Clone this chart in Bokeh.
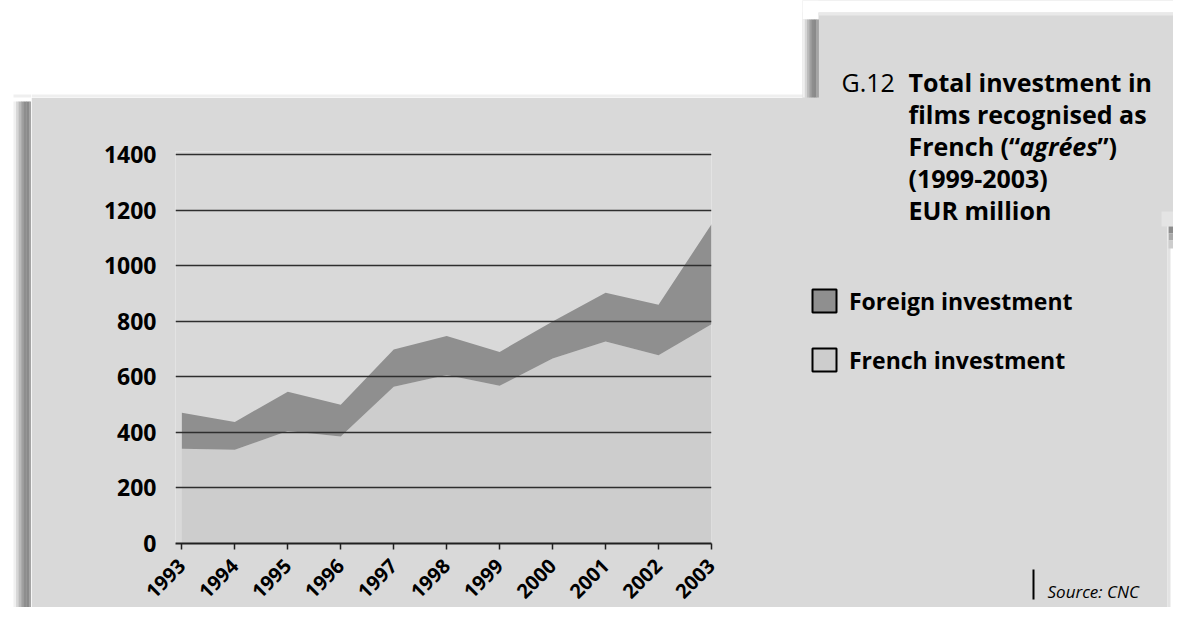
import math
from bokeh.plotting import figure
from bokeh.layouts import row, column
from bokeh.models import (FixedTicker, Label, Legend, LegendItem, PolyAnnotation,
                          ColumnDataSource, Range1d)
from bokeh.embed import file_html
from bokeh.resources import INLINE

# ---------------- data ----------------
years = [1993, 1994, 1995, 1996, 1997, 1998, 1999, 2000, 2001, 2002, 2003]
french_investment = [341, 338, 405, 385, 565, 607, 568, 666, 728, 678, 790]
foreign_investment = [130, 100, 142, 115, 134, 140, 122, 134, 175, 182, 360]
y_ticks = [0, 200, 400, 600, 800, 1000, 1200, 1400]
series_labels = ["Foreign investment", "French investment"]
title_number = "G.12"
title_lines = ["Total investment in", "films recognised as", "French (\u201c", "agr\u00e9es", "\u201d)",
               "(1999-2003)", "EUR million"]
source_text = "Source: CNC"

# ---------------- geometry (window pixels) ----------------
TOTAL_W, TOTAL_H = 1174, 607
SPLIT_X = 803     # left edge of the right-hand (title) block
TOP_Y = 97        # top edge of the main panel
LEFT_X = 31       # left edge of the main panel
FL, FR, FT, FB = 175, 711, 151, 543   # plot frame
X0, X1 = 1992.88, 2003.0
Y0, Y1 = 0, 1412

PANEL = "#d9d9d9"
FRENCH_C = "#cdcdcd"
FOREIGN_C = "#8f8f8f"
GRID_C = "#2e2e2e"
SHADOW = ["#f0f0f0", "#d6d6d6", "#bababa", "#a0a0a0", "#8e8e8e", "#8a8a8a", "#a4a4a4"]


def deco_fig(x0, x1, y0, y1, bg):
    f = figure(width=x1 - x0, height=y1 - y0,
               x_range=Range1d(x0, x1), y_range=Range1d(y1, y0),
               x_axis_location=None, y_axis_location=None,
               output_backend="svg", toolbar_location=None,
               min_border_left=0, min_border_right=0, min_border_top=0, min_border_bottom=0)
    f.title.visible = False
    f.outline_line_color = None
    f.grid.visible = False
    f.background_fill_color = bg
    f.border_fill_color = bg
    return f


def rect(f, x0, y0, x1, y1, color):
    f.add_layout(PolyAnnotation(xs=[x0, x1, x1, x0], ys=[y0, y0, y1, y1],
                                fill_color=color, fill_alpha=1.0, line_color=None))


def shadow_bands(f, xa, xb, ya, yb):
    step = (xb - xa) / len(SHADOW)
    for i, c in enumerate(SHADOW):
        rect(f, xa + i * step, ya, xa + (i + 1) * step + 0.4, yb, c)


# ---- full-height strip left of the main panel (white + shadow) ----
left_fig = deco_fig(0, LEFT_X, 0, TOTAL_H, "white")
rect(left_fig, 13, TOP_Y - 3, LEFT_X, TOP_Y, "#efefef")
shadow_bands(left_fig, 13, LEFT_X, 101, TOTAL_H)

# ---- strip above the main panel ----
top_fig = deco_fig(LEFT_X, SPLIT_X, 0, TOP_Y, "white")
rect(top_fig, LEFT_X, TOP_Y - 3, SPLIT_X, TOP_Y, "#efefef")

# ---- the chart ----
p = figure(width=SPLIT_X - LEFT_X, height=TOTAL_H - TOP_Y,
           x_range=(X0, X1), y_range=(Y0, Y1),
           output_backend="svg", toolbar_location=None,
           min_border_left=FL - LEFT_X, min_border_right=SPLIT_X - FR,
           min_border_top=FT - TOP_Y, min_border_bottom=TOTAL_H - FB)
p.title.visible = False
p.outline_line_color = None
p.background_fill_color = PANEL
p.border_fill_color = PANEL

src = ColumnDataSource(dict(year=years, french=french_investment, foreign=foreign_investment))
areas = p.varea_stack(["french", "foreign"], x="year", source=src,
                      color=[FRENCH_C, FOREIGN_C])
for r in areas:
    r.level = "underlay"

p.xaxis.ticker = FixedTicker(ticks=years)
p.yaxis.ticker = FixedTicker(ticks=y_ticks)
p.ygrid.ticker = FixedTicker(ticks=y_ticks)
p.xgrid.visible = False
p.ygrid.grid_line_color = GRID_C
p.ygrid.grid_line_width = 1.5
p.ygrid.level = "glyph"

p.yaxis.axis_line_color = None
p.yaxis.major_tick_line_color = None
p.yaxis.minor_tick_line_color = None
p.yaxis.major_tick_out = 0
p.yaxis.major_tick_in = 0
p.yaxis.major_label_standoff = 19
p.yaxis.major_label_text_font = "Open Sans"
p.yaxis.major_label_text_font_style = "bold"
p.yaxis.major_label_text_font_size = "23px"
p.yaxis.major_label_text_color = "black"

p.xaxis.axis_line_color = "#202020"
p.xaxis.axis_line_width = 2
p.xaxis.major_tick_line_color = "#202020"
p.xaxis.major_tick_line_width = 1.5
p.xaxis.major_tick_out = 6
p.xaxis.major_tick_in = 0
p.xaxis.minor_tick_line_color = None
p.xaxis.major_label_orientation = math.pi / 4
p.xaxis.major_label_standoff = 13
p.xaxis.major_label_text_font = "Open Sans"
p.xaxis.major_label_text_font_style = "bold"
p.xaxis.major_label_text_font_size = "20px"
p.xaxis.major_label_text_color = "black"

# ---- right-hand block: title, legend, source ----
d = deco_fig(SPLIT_X, TOTAL_W, 0, TOTAL_H, PANEL)
d.margin = (0, 0, 0, -1)
rect(d, SPLIT_X, 0, TOTAL_W, 12, "white")
rect(d, SPLIT_X, 0, 819, 19, "white")
rect(d, 819, 12, TOTAL_W, 15, "#e9e9e9")
shadow_bands(d, SPLIT_X, 819, 19, TOP_Y)
rect(d, 1162, 211, TOTAL_W, 226, "#e4e4e4")
rect(d, 1168, 226, TOTAL_W, TOTAL_H, "white")
rect(d, 1168, 240, 1171, TOTAL_H, "#e3e3e3")
for (a, b, c) in [(226, 233, "#8c8c8c"), (233, 240, "#a9a9a9"), (240, 248, "#cdcdcd")]:
    rect(d, 1169, a, TOTAL_W, b, c)

# legend swatch proxies (kept outside the visible range; only their legend icons show)
sw_foreign = d.quad(left=[0], right=[1], top=[0], bottom=[1], fill_color=FOREIGN_C,
                    line_color="black", line_width=2)
sw_french = d.quad(left=[0], right=[1], top=[0], bottom=[1], fill_color=FRENCH_C,
                   line_color="black", line_width=2)
legend = Legend(items=[LegendItem(label=series_labels[0], renderers=[sw_foreign]),
                       LegendItem(label=series_labels[1], renderers=[sw_french])],
                location=(810 - SPLIT_X, TOTAL_H - 375.5), orientation="vertical",
                glyph_width=30, glyph_height=29, label_standoff=10, spacing=27,
                padding=0, margin=0, border_line_color=None, background_fill_alpha=0,
                label_text_font="Open Sans", label_text_font_style="bold",
                label_text_font_size="23px", label_text_color="black")
d.add_layout(legend)


def text(x, y, t, size, style):
    d.add_layout(Label(x=x, y=y, text=t, text_font="Open Sans", text_font_size=size,
                       text_font_style=style, text_color="black",
                       text_align="left", text_baseline="alphabetic"))


text(842, 81.7, title_number, "25px", "normal")
text(909, 81.7, title_lines[0], "25px", "bold")
text(909, 113.7, title_lines[1], "25px", "bold")
text(909, 145.7, title_lines[2], "25px", "bold")
text(1020, 145.7, title_lines[3], "25px", "bold italic")
text(1098, 145.7, title_lines[4], "25px", "bold")
text(909, 177.7, title_lines[5], "25px", "bold")
text(909, 209.7, title_lines[6], "25px", "bold")

rect(d, 1033, 569, 1035, 599, "black")
text(1048, 591, source_text, "17px", "italic")

page = row(left_fig, column(top_fig, row(p)), d)
open("out.html", "w").write(file_html(page, INLINE))
